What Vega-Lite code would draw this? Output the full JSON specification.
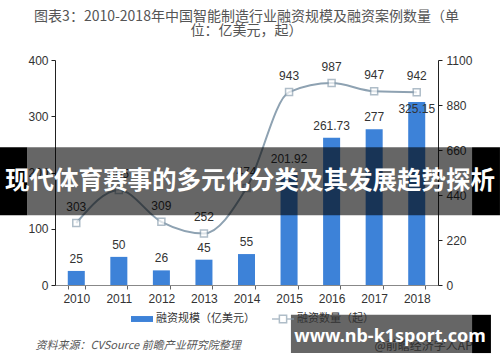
{
  "$schema": "https://vega.github.io/schema/vega-lite/v6.json",
  "width": 383,
  "height": 225,
  "autosize": {"type": "none"},
  "padding": {"left": 55, "top": 60, "right": 62, "bottom": 77},
  "background": "white",
  "config": {
    "font": "Noto Sans CJK SC",
    "view": {"stroke": null},
    "axis": {"grid": false, "labelFont": "Liberation Sans", "labelFontSize": 12, "labelColor": "#333"}
  },
  "title": {
    "text": ["图表3：2010-2018年中国智能制造行业融资规模及融资案例数量（单", "位：亿美元，起）"],
    "fontSize": 14,
    "fontWeight": "normal",
    "color": "#555",
    "anchor": "middle",
    "offset": 16,
    "lineHeight": 14
  },
  "data": {
    "values": [
      {"year": "2010", "amount": 25, "deals": 303},
      {"year": "2011", "amount": 50, "deals": 465},
      {"year": "2012", "amount": 26, "deals": 309},
      {"year": "2013", "amount": 45, "deals": 252},
      {"year": "2014", "amount": 55, "deals": 474},
      {"year": "2015", "amount": 201.92, "deals": 943},
      {"year": "2016", "amount": 261.73, "deals": 987},
      {"year": "2017", "amount": 277, "deals": 947},
      {"year": "2018", "amount": 325.15, "deals": 942}
    ]
  },
  "encoding": {
    "x": {
      "field": "year",
      "type": "ordinal",
      "scale": {"paddingInner": 0.6, "paddingOuter": 0.3},
      "axis": {
        "labelAngle": 0,
        "tickBand": "extent",
        "tickSize": 4,
        "domainColor": "#888",
        "tickColor": "#666",
        "labelPadding": 4,
        "title": "资料来源：CVSource 前瞻产业研究院整理",
        "titleFontStyle": "italic",
        "titleFontWeight": "normal",
        "titleFontSize": 11,
        "titleColor": "#555",
        "titleAnchor": "start",
        "titleAlign": "left",
        "titleBaseline": "middle",
        "titleX": -20,
        "titleY": 60
      }
    }
  },
  "layer": [
    {
      "encoding": {
        "y": {
          "field": "amount",
          "type": "quantitative",
          "scale": {"domain": [0, 400]},
          "axis": {"values": [0, 100, 200, 300, 400], "title": null, "domainColor": "#222", "tickColor": "#222", "tickSize": 4, "labelPadding": 3}
        }
      },
      "layer": [
        {
          "mark": {"type": "bar"},
          "encoding": {
            "color": {
              "datum": "融资规模（亿美元）",
              "scale": {"range": ["#3d82d8"]},
              "legend": {
                "orient": "none", "legendX": 75, "legendY": 247, "title": null,
                "symbolType": "M-1,-0.27H1V0.27H-1Z", "symbolSize": 484,
                "labelFontSize": 11, "labelOffset": 2, "labelColor": "#333"
              }
            }
          }
        },
        {
          "transform": [{"filter": "datum.year != '2018'"}],
          "mark": {"type": "text", "dy": -12, "fontSize": 12, "font": "Liberation Sans", "color": "#333"},
          "encoding": {"text": {"field": "amount", "type": "quantitative"}}
        },
        {
          "transform": [{"filter": "datum.year == '2018'"}],
          "mark": {"type": "text", "dy": 7, "fontSize": 12, "font": "Liberation Sans", "color": "#333"},
          "encoding": {"text": {"field": "amount", "type": "quantitative"}}
        }
      ]
    },
    {
      "encoding": {
        "y": {
          "field": "deals",
          "type": "quantitative",
          "scale": {"domain": [0, 1100]},
          "axis": {
            "orient": "right", "values": [0, 220, 440, 660, 880, 1100], "format": "d",
            "domainColor": "#222", "tickColor": "#222", "tickSize": 4, "labelPadding": 4,
            "title": "@前瞻经济学人APP", "titleAngle": 0, "titleX": -64, "titleY": 285,
            "titleAlign": "left", "titleBaseline": "middle", "titleColor": "#777",
            "titleFontWeight": "normal", "titleFontSize": 12
          }
        }
      },
      "layer": [
        {
          "mark": {"type": "line", "interpolate": "monotone", "strokeWidth": 2},
          "encoding": {
            "stroke": {
              "datum": "融资数量（起）",
              "scale": {"range": ["#8ea2b2"]},
              "legend": {
                "orient": "none", "legendX": 216, "legendY": 247, "title": null,
                "symbolType": "M-1,0H-0.33M0.33,0H1M-0.33,-0.33H0.33V0.33H-0.33Z", "symbolSize": 484,
                "symbolFillColor": "white", "symbolStrokeWidth": 1.5,
                "labelFontSize": 11, "labelOffset": 2, "labelColor": "#333"
              }
            }
          }
        },
        {
          "mark": {"type": "point", "shape": "square", "size": 49, "filled": true, "fill": "white", "strokeWidth": 1.5},
          "encoding": {"stroke": {"datum": "融资数量（起）"}}
        },
        {
          "mark": {"type": "text", "dy": -16, "fontSize": 12, "font": "Liberation Sans", "color": "#333"},
          "encoding": {"text": {"field": "deals", "type": "quantitative"}}
        }
      ]
    },
    {
      "data": {"values": [{}]},
      "encoding": {
        "y": {"datum": 245, "type": "quantitative", "scale": {"domain": [0, 400]}, "axis": null}
      },
      "layer": [
        {
          "mark": {"type": "rect", "color": "black", "opacity": 0.6},
          "encoding": {
            "x": {"datum": "2010", "bandPosition": -2.38},
            "x2": {"datum": "2018", "bandPosition": 3.75},
            "y2": {"datum": 124}
          }
        },
        {
          "mark": {"type": "rect", "color": "black", "opacity": 1},
          "encoding": {
            "x": {"datum": "2010", "bandPosition": -3.99},
            "x2": {"datum": "2010", "bandPosition": -2.38},
            "y2": {"datum": 124}
          }
        },
        {
          "mark": {"type": "rect", "color": "black", "opacity": 1},
          "encoding": {
            "x": {"datum": "2018", "bandPosition": 3.75},
            "x2": {"datum": "2018", "bandPosition": 5.39},
            "y2": {"datum": 124}
          }
        },
        {
          "mark": {"type": "text", "color": "white", "fontSize": 24.5, "fontWeight": "bold", "font": "Noto Sans CJK SC"},
          "encoding": {
            "x": {"datum": "2014", "bandPosition": 0.7},
            "y": {"datum": 184},
            "text": {"value": "现代体育赛事的多元化分类及其发展趋势探析"}
          }
        },
        {
          "mark": {"type": "rect", "color": "black", "opacity": 0.6},
          "encoding": {
            "x": {"datum": "2015", "bandPosition": 0.61},
            "x2": {"datum": "2018", "bandPosition": 3.75},
            "y": {"datum": -53},
            "y2": {"datum": -121}
          }
        },
        {
          "mark": {"type": "rect", "color": "black", "opacity": 1},
          "encoding": {
            "x": {"datum": "2018", "bandPosition": 3.75},
            "x2": {"datum": "2018", "bandPosition": 4.86},
            "y": {"datum": -53},
            "y2": {"datum": -121}
          }
        },
        {
          "mark": {"type": "text", "color": "white", "fontSize": 18, "fontWeight": "bold", "font": "Noto Sans"},
          "encoding": {
            "x": {"datum": "2017", "bandPosition": 1.43},
            "y": {"datum": -92},
            "text": {"value": "www.nb-k1sport.com"}
          }
        }
      ]
    }
  ],
  "resolve": {"scale": {"y": "independent"}, "axis": {"y": "independent"}}
}
